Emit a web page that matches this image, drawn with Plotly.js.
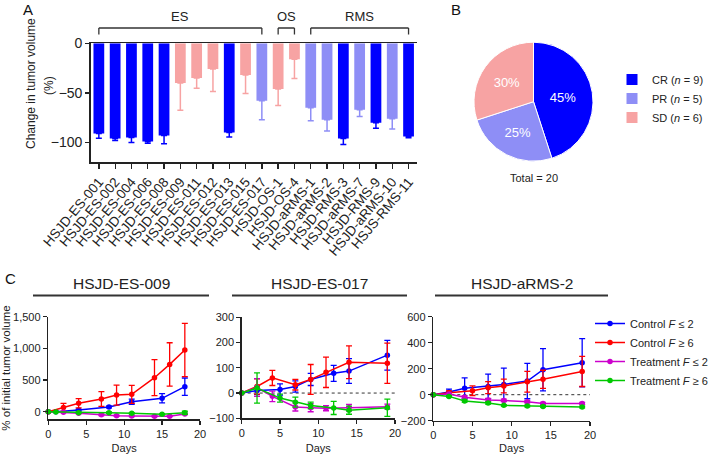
<!DOCTYPE html>
<html><head><meta charset="utf-8">
<script src="https://cdn.plot.ly/plotly-3.0.1.min.js"></script>
<style>html,body{margin:0;padding:0;background:#fff}#chart{width:709px;height:454px}</style>
</head><body><div id="chart"></div>
<script>
// ---------- Panel A data ----------
const samples = ['HSJD-ES-001','HSJD-ES-002','HSJD-ES-004','HSJD-ES-006','HSJD-ES-008','HSJD-ES-009','HSJD-ES-011','HSJD-ES-012','HSJD-ES-013','HSJD-ES-015','HSJD-ES-017','HSJD-OS-1','HSJD-OS-4','HSJD-aRMS-1','HSJD-aRMS-2','HSJD-RMS-3','HSJD-aRMS-7','HSJD-RMS-9','HSJD-aRMS-10','HSJS-RMS-11'];
const volumeChange = [-91,-96,-95,-99,-93,-40,-35,-26,-90,-32,-58,-46,-16,-65,-77,-96,-67,-80,-76,-94];
const volumeErr = [4.7,2,5,1.7,8.4,27.6,10.4,22.6,4.4,18.5,19.2,16.8,19.5,13,11.4,6,6.7,5.7,10.4,1.3];
const response = ['CR','CR','CR','CR','CR','SD','SD','SD','CR','SD','PR','SD','SD','PR','PR','CR','PR','CR','PR','CR'];
const tumorType = ['ES','ES','ES','ES','ES','ES','ES','ES','ES','ES','ES','OS','OS','RMS','RMS','RMS','RMS','RMS','RMS','RMS'];
const responseCats = ['CR','PR','SD'];
const responseColors = {CR:'#0000FF', PR:'#8E8EF6', SD:'#F7A3A3'};

// ---------- Panel C data ----------
const seriesNames = ['Control <i>F</i> ≤ 2','Control <i>F</i> ≥ 6','Treatment <i>F</i> ≤ 2','Treatment <i>F</i> ≥ 6'];
const seriesColors = ['#0000FF','#FF0000','#CC00CC','#00C800'];
const modelTitles = ['HSJD-ES-009','HSJD-ES-017','HSJD-aRMS-2'];

// HSJD-ES-009
const es009_days = [[0,1,4,8,11,15,18],[0,2,4,7,9,11,14,16,18],[0,2,4,7,9,11,14,16,18],[0,1,4,8,11,15,18]];
const es009_vals = [[0,0,26,74,158,211,395],[0,68,132,200,263,274,537,747,974],[0,-10,-25,-50,-65,-68,-72,-70,-35],[0,-3,-15,-16,-24,-40,-18]];
const es009_err  = [[0,5,12,15,40,73,137],[0,64,73,116,158,142,284,342,421],[0,5,8,10,10,8,8,8,10],[0,5,10,12,10,10,25]];
// HSJD-ES-017
const es017_days = [[0,2,5,7,9,12,14,19],[0,2,4,7,9,11,14,19],[0,2,4,7,9,11,14,19],[0,2,5,7,9,12,14,19]];
const es017_vals = [[0,10,14,26,54,78,87,150],[0,26,60,33,54,82,122,118],[0,22,-13,-55,-58,-60,-58,-54],[0,20,-20,-36,-49,-59,-68,-58]];
const es017_err  = [[0,16,22,22,24,32,49,59],[0,30,30,21,59,60,65,80],[0,35,21,16,16,10,13,10],[0,60,16,20,13,26,16,34]];
// HSJD-aRMS-2
const arms2_days = [[0,2,4,7,9,12,14,19],[0,2,5,7,9,12,14,19],[0,2,4,7,9,12,14,19],[0,2,4,7,9,12,14,19]];
const arms2_vals = [[0,20,49,64,79,105,192,246],[0,15,31,54,67,100,118,179],[0,5,-20,-41,-44,-54,-67,-67],[0,-13,-49,-64,-82,-87,-90,-95]];
const arms2_err  = [[0,23,80,95,126,136,163,185],[0,15,37,46,53,80,70,116],[0,5,12,12,10,8,8,8],[0,5,8,8,6,6,6,6]];

const yRanges = [[-120,1500],[-100,300],[-200,600]];
const yTicks = [[0,500,1000,1500],[-100,0,100,200,300],[-200,0,200,400,600]];
const dayTicks = [0,5,10,15,20];

// ---------- layout helpers ----------
const W = 709, H = 454;
const fx = v => v / W;
const fy = v => 1 - v / H;
const FONT = 'Arial, "Liberation Sans", sans-serif';
const AX = '#222';

const traces = [];
const shapes = [];
const annotations = [];

// Panel A bars: one trace per response class
responseCats.forEach(cat => {
  const idx = samples.map((s,i)=>i).filter(i => response[i] === cat);
  traces.push({
    type:'bar', xaxis:'x', yaxis:'y', showlegend:false,
    x: idx.map(i=>samples[i]), y: idx.map(i=>volumeChange[i]),
    width: 0.66,
    marker:{color: responseColors[cat], line:{width:0}},
    error_y:{type:'data', symmetric:false, array: idx.map(()=>0), arrayminus: idx.map(i=>volumeErr[i]),
      color: responseColors[cat], thickness:1.5, width:3},
    hoverinfo:'skip'
  });
});

// Panel B pie
const counts = responseCats.map(c => response.filter(r => r === c).length);
const total = counts.reduce((a,b)=>a+b,0);
traces.push({
  type:'pie', legend:'legend2',
  labels: responseCats.map((c,i)=> c + ' (<i>n</i> = ' + counts[i] + ')'),
  values: counts, sort:false, direction:'clockwise', rotation:0,
  marker:{colors: responseCats.map(c=>responseColors[c]), line:{color:'#fff', width:1}},
  textinfo:'percent', textposition:'inside', insidetextorientation:'horizontal',
  insidetextfont:{color:'#fff', size:13, family:FONT},
  domain:{x:[fx(474), fx(593)], y:[fy(161.2), fy(42.2)]},
  hoverinfo:'skip'
});

// Panel C line charts
const allDays = [es009_days, es017_days, arms2_days];
const allVals = [es009_vals, es017_vals, arms2_vals];
const allErr = [es009_err, es017_err, arms2_err];
for (let p=0; p<3; p++) {
  const ax = p + 2;
  for (let s=0; s<4; s++) {
    traces.push({
      type:'scatter', mode:'lines+markers', xaxis:'x'+ax, yaxis:'y'+ax,
      name: seriesNames[s], legendgroup:'g'+s, showlegend: p===0,
      x: allDays[p][s], y: allVals[p][s],
      line:{color: seriesColors[s], width:1.5},
      marker:{color: seriesColors[s], size:5.5, symbol:'circle'},
      error_y:{type:'data', array: allErr[p][s], color: seriesColors[s], thickness:1.3, width:3},
      cliponaxis:false, hoverinfo:'skip'
    });
  }
}

// Brackets for tumor types
const groups = [...new Set(tumorType)];
groups.forEach(g => {
  const first = tumorType.indexOf(g), last = tumorType.lastIndexOf(g);
  const yTop = fy(28), yBot = fy(34.5);
  const ln = {color:'#333', width:1.3};
  shapes.push({type:'line', xref:'x', yref:'paper', x0:first, x1:last, y0:yTop, y1:yTop, line:ln});
  shapes.push({type:'line', xref:'x', yref:'paper', x0:first, x1:first, y0:yTop, y1:yBot, line:ln});
  shapes.push({type:'line', xref:'x', yref:'paper', x0:last, x1:last, y0:yTop, y1:yBot, line:ln});
  annotations.push({xref:'x', yref:'paper', x:(first+last)/2, y:fy(17), text:g, showarrow:false,
    font:{size:13, family:FONT, color:'#222'}, xanchor:'center', yanchor:'middle'});
});

// Panel letters
[['A',28,9],['B',456,9],['C',10,278]].forEach(([t,x,y]) => annotations.push({
  xref:'paper', yref:'paper', x:fx(x), y:fy(y), text:t, showarrow:false,
  font:{size:15, family:FONT, color:'#111'}, xanchor:'center', yanchor:'middle'}));

// Panel A y-axis title (two separately placed lines, as in the figure)
annotations.push({xref:'paper', yref:'paper', x:fx(31), y:fy(84), text:'Change in tumor volume', textangle:-90,
  showarrow:false, font:{size:12, family:FONT, color:'#222'}, xanchor:'center', yanchor:'middle'});
annotations.push({xref:'paper', yref:'paper', x:fx(49), y:fy(86), text:'(%)', textangle:-90,
  showarrow:false, font:{size:12, family:FONT, color:'#222'}, xanchor:'center', yanchor:'middle'});

annotations.push({xref:'paper', yref:'paper', x:fx(534), y:fy(178), text:'Total = ' + total, showarrow:false,
  font:{size:11, family:FONT, color:'#222'}, xanchor:'center', yanchor:'middle'});

// Panel C titles with underline
const titleSpans = [[33,209],[232,407],[435,608]];
modelTitles.forEach((t,i) => {
  const [a,b] = titleSpans[i];
  annotations.push({xref:'paper', yref:'paper', x:fx((a+b)/2), y:fy(283), text:t, showarrow:false,
    font:{size:15.5, family:FONT, color:'#222'}, xanchor:'center', yanchor:'middle'});
  shapes.push({type:'line', xref:'paper', yref:'paper', x0:fx(a), x1:fx(b), y0:fy(295.5), y1:fy(295.5),
    line:{color:'#333', width:2}});
});

// dotted zero lines for panels 2 and 3
[3,4].forEach(ax => shapes.push({type:'line', xref:'x'+ax+' domain', yref:'y'+ax, x0:0, x1:1, y0:0, y1:0,
  line:{color:'#333', width:1, dash:'dot'}, layer:'below'}));

const baseAxis = {showline:true, linecolor:AX, linewidth:1.5, ticks:'outside', ticklen:4, tickwidth:1.3, tickcolor:AX,
  showgrid:false, zeroline:false, automargin:false, tickfont:{size:11, family:FONT, color:'#222'}};

const layout = {
  width:W, height:H, margin:{l:0,r:0,t:0,b:0,autoexpand:false}, paper_bgcolor:'#fff', plot_bgcolor:'rgba(0,0,0,0)',
  font:{family:FONT, color:'#222'},
  barmode:'overlay', showlegend:true,
  xaxis: Object.assign({}, baseAxis, {domain:[fx(90.7), fx(416.7)], anchor:'y', type:'category',
    categoryorder:'array', categoryarray:samples, tickmode:'array', tickvals:samples, ticktext:samples,
    tickangle:-50, mirror:true, ticklen:5,
    tickfont:{size:13.5, family:FONT, color:'#222'}}),
  yaxis: Object.assign({}, baseAxis, {domain:[fy(162.3), fy(43.3)], anchor:'x', range:[-120,0],
    tickvals:[0,-50,-100], tickfont:{size:14, family:FONT, color:'#222'}}),
  legend:{x:fx(590), y:fy(309), xanchor:'left', yanchor:'top', font:{size:11, family:FONT, color:'#222'},
    bgcolor:'rgba(0,0,0,0)', tracegroupgap:0},
  legend2:{x:fx(612), y:fy(65), xanchor:'left', yanchor:'top', font:{size:11, family:FONT, color:'#222'},
    bgcolor:'rgba(0,0,0,0)'},
  shapes, annotations
};

const cx = [[48.3,200],[241.7,395],[433.3,590]];
const cy = [[316.7,419.3],[317.3,418.3],[316.7,420.7]];
for (let p=0; p<3; p++) {
  const ax = p + 2;
  layout['xaxis'+ax] = Object.assign({}, baseAxis, {domain:[fx(cx[p][0]), fx(cx[p][1])], anchor:'y'+ax,
    range:[0,20], tickvals:dayTicks,
    title:{text:'Days', font:{size:11, family:FONT, color:'#222'}, standoff:9}});
  layout['yaxis'+ax] = Object.assign({}, baseAxis, {domain:[fy(cy[p][1]), fy(cy[p][0])], anchor:'x'+ax,
    range:yRanges[p], tickvals:yTicks[p], tickformat:','});
}
layout.yaxis2.title = {text:'% of initial tumor volume', font:{size:11.5, family:FONT, color:'#222'}, standoff:6};

Plotly.newPlot('chart', traces, layout, {staticPlot:true, displayModeBar:false});
</script></body></html>
